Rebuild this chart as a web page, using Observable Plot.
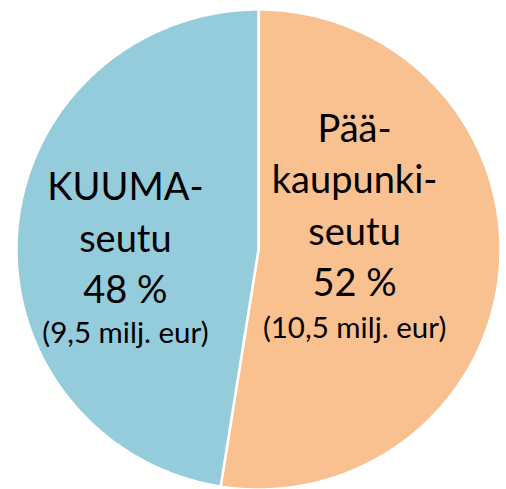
<!DOCTYPE html>
<html>
<head>
<meta charset="utf-8">
<script src="https://cdn.jsdelivr.net/npm/d3@7"></script>
<script src="https://cdn.jsdelivr.net/npm/@observablehq/plot@0.6"></script>
<style>
  html, body { margin: 0; padding: 0; background: #fff; }
</style>
</head>
<body>
<div id="chart"></div>
<script>
// Data
const regions = ["Pääkaupunkiseutu", "KUUMA-seutu"];
const values = [10.5, 9.5]; // milj. eur
const shares = ["52 %", "48 %"];
const labelNames = ["Pää-\nkaupunki-\nseutu", "KUUMA-\nseutu"];
const amountLabels = ["(10,5 milj. eur)", "(9,5 milj. eur)"];
const colors = ["#F9C190", "#94CCDC"];

// Build slice outlines (geometry) from the values via d3.pie
const pie = d3.pie().sort(null).value(d => d.value)(regions.map((r, i) => ({region: r, value: values[i]})));
const slicePts = [];
pie.forEach(s => {
  const pts = [[0, 0]];
  const n = Math.max(2, Math.ceil((s.endAngle - s.startAngle) / (Math.PI / 360)));
  for (let k = 0; k <= n; k++) {
    const a = s.startAngle + (s.endAngle - s.startAngle) * k / n;
    pts.push([Math.sin(a), Math.cos(a)]);
  }
  pts.forEach(p => slicePts.push({region: s.data.region, x: p[0], y: p[1]}));
});

const mainLabels = [
  {text: labelNames[0] + "\n" + shares[0], x: 0.397, y: 0.195},
  {text: labelNames[1] + "\n" + shares[1], x: -0.55, y: 0.06}
];
const subLabels = [
  {text: amountLabels[0], x: 0.397, y: -0.33},
  {text: amountLabels[1], x: -0.55, y: -0.35}
];

const chart = Plot.plot({
  width: 506,
  height: 489,
  marginLeft: 16,
  marginRight: 6,
  marginTop: 9,
  marginBottom: 0,
  x: {domain: [-1, 1], axis: null},
  y: {domain: [-1, 1], axis: null},
  color: {domain: regions, range: colors},
  style: {background: "#fff", overflow: "visible", fontFamily: "Lato, sans-serif"},
  marks: [
    Plot.line(slicePts, {x: "x", y: "y", z: "region", fill: "region", stroke: "#fff", strokeWidth: 2.5, curve: "linear-closed"}),
    Plot.text(mainLabels, {x: "x", y: "y", text: "text", fontSize: 38, lineHeight: 1.35, fill: "#000", lineAnchor: "middle"}),
    Plot.text(subLabels, {x: "x", y: "y", text: "text", fontSize: 29.5, fill: "#000", lineAnchor: "middle"})
  ]
});
document.getElementById("chart").appendChild(chart);
</script>
</body>
</html>
